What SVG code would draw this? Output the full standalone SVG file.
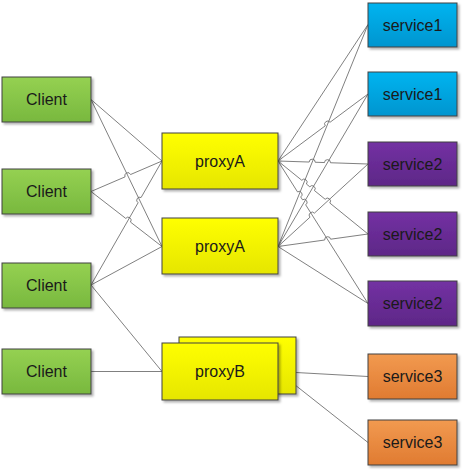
<svg xmlns="http://www.w3.org/2000/svg" width="463" height="470" viewBox="0 0 463 470">
<style>
.box{stroke:#404040;stroke-width:1}
.lbl{font-family:"Liberation Sans",Arial,sans-serif;font-size:16px;fill:#1a1a1a;text-anchor:middle}
.lblw{font-family:"Liberation Sans",Arial,sans-serif;font-size:16px;fill:#1a1a1a;text-anchor:middle}
.con path{fill:none;stroke:#606060;stroke-width:0.8}
</style>
<defs>
<linearGradient id="gGreen" x1="0" y1="0" x2="0" y2="1"><stop offset="0" stop-color="#95d152"/><stop offset="1" stop-color="#78b83e"/></linearGradient>
<linearGradient id="gYellow" x1="0" y1="0" x2="0" y2="1"><stop offset="0" stop-color="#ffff00"/><stop offset="1" stop-color="#e6e600"/></linearGradient>
<linearGradient id="gBlue" x1="0" y1="0" x2="0" y2="1"><stop offset="0" stop-color="#00b4f0"/><stop offset="1" stop-color="#0095cf"/></linearGradient>
<linearGradient id="gPurple" x1="0" y1="0" x2="0" y2="1"><stop offset="0" stop-color="#7331a3"/><stop offset="1" stop-color="#5e2787"/></linearGradient>
<linearGradient id="gOrange" x1="0" y1="0" x2="0" y2="1"><stop offset="0" stop-color="#f29a50"/><stop offset="1" stop-color="#e07b31"/></linearGradient>
<filter id="sh" x="-10%" y="-10%" width="130%" height="140%"><feDropShadow dx="2" dy="2" stdDeviation="1" flood-color="#000" flood-opacity="0.3"/></filter>
</defs>
<rect width="463" height="470" fill="#ffffff"/>
<g id="connectors" class="con">
<path d="M91,99.5 L162,161"/>
<path d="M91,99.5 L162,246.5"/>
<path d="M91,191.5 L125.04,176.88 A3,3 0 0 1 130.56,174.52 L162,161"/>
<path d="M91,191.5 L125.72,218.39 A3,3 0 0 1 130.46,222.07 L162,246.5"/>
<path d="M91,285 L138.11,202.72 A3,3 0 0 1 141.09,197.52 L162,161"/>
<path d="M91,285 L162,246.5"/>
<path d="M91,285 L162,371.5"/>
<path d="M91,371.5 L162,371.5"/>
<path d="M278,161 L368,24.5"/>
<path d="M278,161 L325.24,125.83 A3,3 0 0 1 330.06,122.25 L368,94"/>
<path d="M278,161 L309.2,162.04 A3,3 0 0 1 315.2,162.24 L324.49,162.55 A3,3 0 0 1 330.49,162.75 L368,164"/>
<path d="M278,161 L301.75,180.26 A3,3 0 0 1 306.41,184.04 L309.79,186.79 A3,3 0 0 1 314.45,190.57 L325.16,199.25 A3,3 0 0 1 329.82,203.03 L368,234"/>
<path d="M278,161 L297.51,191.88 A3,3 0 0 1 300.71,196.96 L302.48,199.75 A3,3 0 0 1 305.68,204.83 L368,303.5"/>
<path d="M278,246.5 L368,24.5"/>
<path d="M278,246.5 L368,94"/>
<path d="M278,246.5 L309.99,217.18 A3,3 0 0 1 314.41,213.12 L368,164"/>
<path d="M278,246.5 L324.68,240.01 A3,3 0 0 1 330.62,239.19 L368,234"/>
<path d="M278,246.5 L368,303.5"/>
<path d="M278,371.5 L368,376.5"/>
<path d="M278,371.5 L368,442.5"/>
</g>
<g id="client1"><rect class="box" x="2" y="77" width="89" height="45" fill="url(#gGreen)" filter="url(#sh)"/><text class="lbl" x="46.5" y="105">Client</text></g>
<g id="client2"><rect class="box" x="2" y="169" width="89" height="45" fill="url(#gGreen)" filter="url(#sh)"/><text class="lbl" x="46.5" y="197">Client</text></g>
<g id="client3"><rect class="box" x="2" y="263" width="89" height="45" fill="url(#gGreen)" filter="url(#sh)"/><text class="lbl" x="46.5" y="291">Client</text></g>
<g id="client4"><rect class="box" x="2" y="349" width="89" height="45" fill="url(#gGreen)" filter="url(#sh)"/><text class="lbl" x="46.5" y="377">Client</text></g>
<g id="proxyA1"><rect class="box" x="162" y="133" width="116" height="56" fill="url(#gYellow)" filter="url(#sh)"/><text class="lbl" x="220" y="166.5">proxyA</text></g>
<g id="proxyA2"><rect class="box" x="162" y="218" width="116" height="56" fill="url(#gYellow)" filter="url(#sh)"/><text class="lbl" x="220" y="251.5">proxyA</text></g>
<g id="proxyB">
<rect class="box" x="179" y="337" width="117" height="57" fill="url(#gYellow)" filter="url(#sh)"/>
<rect class="box" x="162" y="343" width="116" height="57" fill="url(#gYellow)" filter="url(#sh)"/>
<text class="lbl" x="220" y="377">proxyB</text></g>
<g id="service1a"><rect class="box" x="368" y="3" width="89" height="44" fill="url(#gBlue)" filter="url(#sh)"/><text class="lbl" x="412.5" y="30.5">service1</text></g>
<g id="service1b"><rect class="box" x="368" y="72" width="89" height="44" fill="url(#gBlue)" filter="url(#sh)"/><text class="lbl" x="412.5" y="99.5">service1</text></g>
<g id="service2a"><rect class="box" x="368" y="142" width="89" height="44" fill="url(#gPurple)" filter="url(#sh)"/><text class="lblw" x="412.5" y="169.5">service2</text></g>
<g id="service2b"><rect class="box" x="368" y="212" width="89" height="44" fill="url(#gPurple)" filter="url(#sh)"/><text class="lblw" x="412.5" y="239.5">service2</text></g>
<g id="service2c"><rect class="box" x="368" y="281" width="89" height="45" fill="url(#gPurple)" filter="url(#sh)"/><text class="lblw" x="412.5" y="309">service2</text></g>
<g id="service3a"><rect class="box" x="368" y="354" width="89" height="45" fill="url(#gOrange)" filter="url(#sh)"/><text class="lbl" x="412.5" y="382">service3</text></g>
<g id="service3b"><rect class="box" x="368" y="420" width="89" height="45" fill="url(#gOrange)" filter="url(#sh)"/><text class="lbl" x="412.5" y="448">service3</text></g>
</svg>
